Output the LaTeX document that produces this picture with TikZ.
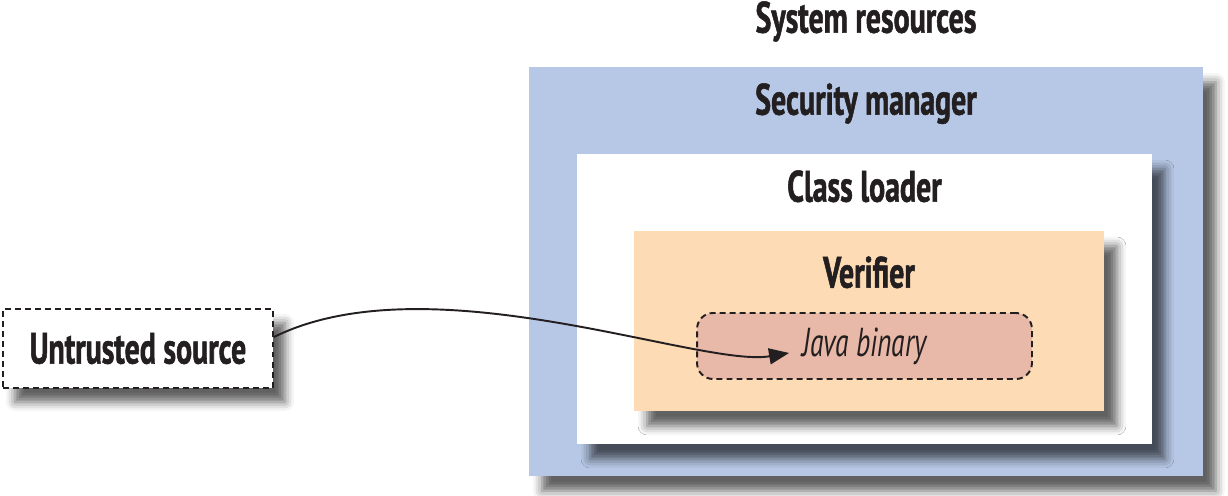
\documentclass[tikz,border=0pt]{standalone}
\usepackage{fontspec}
\setmainfont{PT Sans}
\newfontfamily\narrowfont[FakeStretch=0.68, BoldFeatures={FakeBold=1.2}]{PT Sans}
\usetikzlibrary{positioning,shadows.blur,arrows.meta}
\definecolor{secblue}{HTML}{B7C8E6}
\definecolor{verpeach}{HTML}{FDDBB5}
\definecolor{binrose}{HTML}{E8B8A8}
\definecolor{inkgrey}{HTML}{231F20}
\begin{document}
\begin{tikzpicture}[x=0.02cm, y=-0.02cm,
  layer/.style={draw=none, minimum width=#1, inner sep=0pt,
    blur shadow={shadow xshift=0.26cm, shadow yshift=-0.3cm,
      shadow blur radius=0.18cm, shadow opacity=62}},
  title/.style={anchor=base, text=inkgrey, font=\narrowfont\bfseries\fontsize{25}{30}\selectfont},
  dashline/.style={draw=inkgrey, line width=1.1pt, dash pattern=on 3.4pt off 2.3pt}]
\useasboundingbox (0,0) rectangle (1228,496);
% nested boxes
\node[layer=13.48cm, minimum height=8.18cm, fill=secblue] (secbox) at (866,271.5){};
\node[layer=11.5cm, minimum height=5.8cm, fill=white] (loadbox) at (864.5,299){};
\node[layer=9.4cm, minimum height=3.6cm, fill=verpeach] (verbox) at (869,321){};
\node[dashline, fill=binrose, rounded corners=0.32cm, minimum width=6.7cm, minimum height=1.32cm,
  text=inkgrey, font=\narrowfont\itshape\fontsize{23}{27}\selectfont] (binbox) at (864.5,346){Java binary};
% titles
\node[title] (restitle) at ([yshift=0.68cm]secbox.north){System resources};
\node[title] (sectitle) at ([yshift=-0.96cm]secbox.north){Security manager};
\node[title] (loadtitle) at ([yshift=-0.96cm]loadbox.north){Class loader};
\node[title] (vertitle) at ([yshift=-1.14cm]verbox.north){Verifier};
% source
\node[dashline, fill=white, minimum width=5.4cm, minimum height=1.58cm, text=inkgrey,
  font=\narrowfont\bfseries\fontsize{25}{30}\selectfont,
  blur shadow={shadow xshift=0.24cm, shadow yshift=-0.28cm, shadow blur radius=0.18cm, shadow opacity=62}]
  (srcbox) at (138,348.5){Untrusted source};
\coordinate (srcout) at ([yshift=0.23cm]srcbox.east);
\coordinate (bintip) at ([xshift=1.86cm, yshift=-0.14cm]binbox.west);
\draw[inkgrey, line width=1.1pt, -{Triangle[length=0.4cm, width=0.32cm]}]
  (srcout) .. controls (430,260) and (700,368) .. (bintip);
\end{tikzpicture}
\end{document}
